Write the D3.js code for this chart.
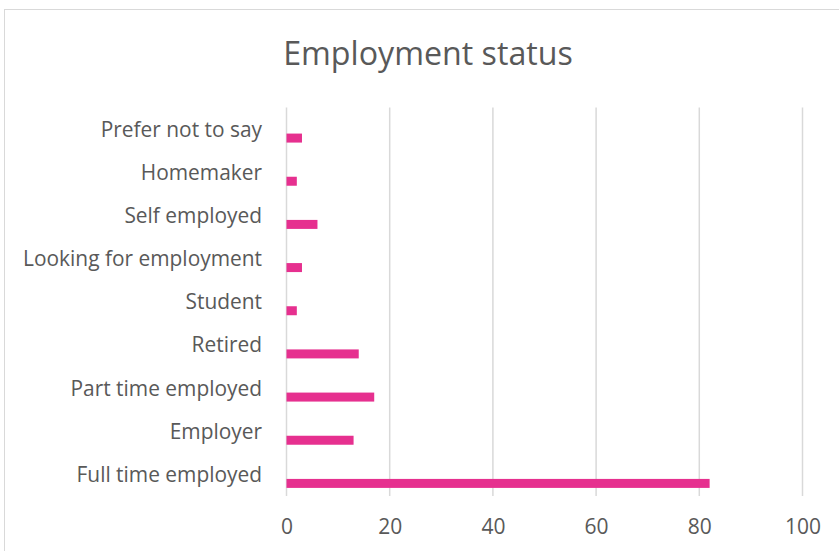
<!DOCTYPE html>
<html>
<head>
<meta charset="utf-8">
<script src="https://cdn.jsdelivr.net/npm/d3@7"></script>
<style>
  html, body { margin: 0; padding: 0; background: #fff; }
  svg { display: block; }
  text { font-family: "Open Sans", sans-serif; fill: #595959; }
</style>
</head>
<body>
<svg id="chart" width="839" height="551"></svg>
<script>
const title = "Employment status";
const categories = ["Prefer not to say", "Homemaker", "Self employed", "Looking for employment",
  "Student", "Retired", "Part time employed", "Employer", "Full time employed"];
const values = [3, 2, 6, 3, 2, 14, 17, 13, 82];
const xTicks = [0, 20, 40, 60, 80, 100];
const slots = [0, 1, 2];      // cluster slots; the data occupies the last one
const dataSlot = 2;

const W = 839, H = 551;
const plot = { left: 286.5, right: 802.5, top: 107.5, bottom: 496 };
const barColor = "#e6308f";
const gridColor = "#d9d9d9";

const svg = d3.select("#chart");
svg.append("rect").attr("width", W).attr("height", H).attr("fill", "#fff");
// chart area border
svg.append("rect").attr("x", 4.5).attr("y", 9.5).attr("width", W + 20).attr("height", H + 20)
  .attr("fill", "none").attr("stroke", gridColor).attr("stroke-width", 1);

const x = d3.scaleLinear().domain([0, 100]).range([plot.left, plot.right]);
const y = d3.scaleBand().domain(categories).range([plot.top, plot.bottom]);
const ySub = d3.scaleBand().domain(slots).range([0, y.bandwidth()]).paddingInner(0).paddingOuter(0.9);

// gridlines
svg.append("g").selectAll("line").data(xTicks).join("line")
  .attr("x1", d => x(d)).attr("x2", d => x(d))
  .attr("y1", plot.top).attr("y2", plot.bottom)
  .attr("stroke", gridColor).attr("stroke-width", 1.5);

// bars
const rows = categories.map((c, i) => ({ c, v: values[i] }));
svg.append("g").selectAll("rect").data(rows).join("rect")
  .attr("x", x(0))
  .attr("y", d => y(d.c) + ySub(dataSlot))
  .attr("width", d => x(d.v) - x(0))
  .attr("height", ySub.bandwidth())
  .attr("fill", barColor);

// x axis tick labels
const xAxis = d3.axisBottom(x).tickValues(xTicks).tickSize(0).tickPadding(0);
const gx = svg.append("g").attr("transform", `translate(0,${plot.bottom})`).call(xAxis);
gx.select(".domain").remove();
gx.selectAll("text").attr("font-size", 21).attr("font-family", "Open Sans, sans-serif")
  .attr("fill", "#595959").attr("dy", null).attr("y", 38);

// y axis category labels
const yAxis = d3.axisLeft(y).tickSize(0).tickPadding(0);
const gy = svg.append("g").attr("transform", `translate(262,0)`).call(yAxis);
gy.select(".domain").remove();
gy.selectAll("text").attr("font-size", 20.9).attr("font-family", "Open Sans, sans-serif")
  .attr("fill", "#595959").attr("dy", "0.36em").attr("x", 0);

// title
svg.append("text").attr("x", 428).attr("y", 65).attr("text-anchor", "middle")
  .attr("font-size", 32.2).text(title);
</script>
</body>
</html>
